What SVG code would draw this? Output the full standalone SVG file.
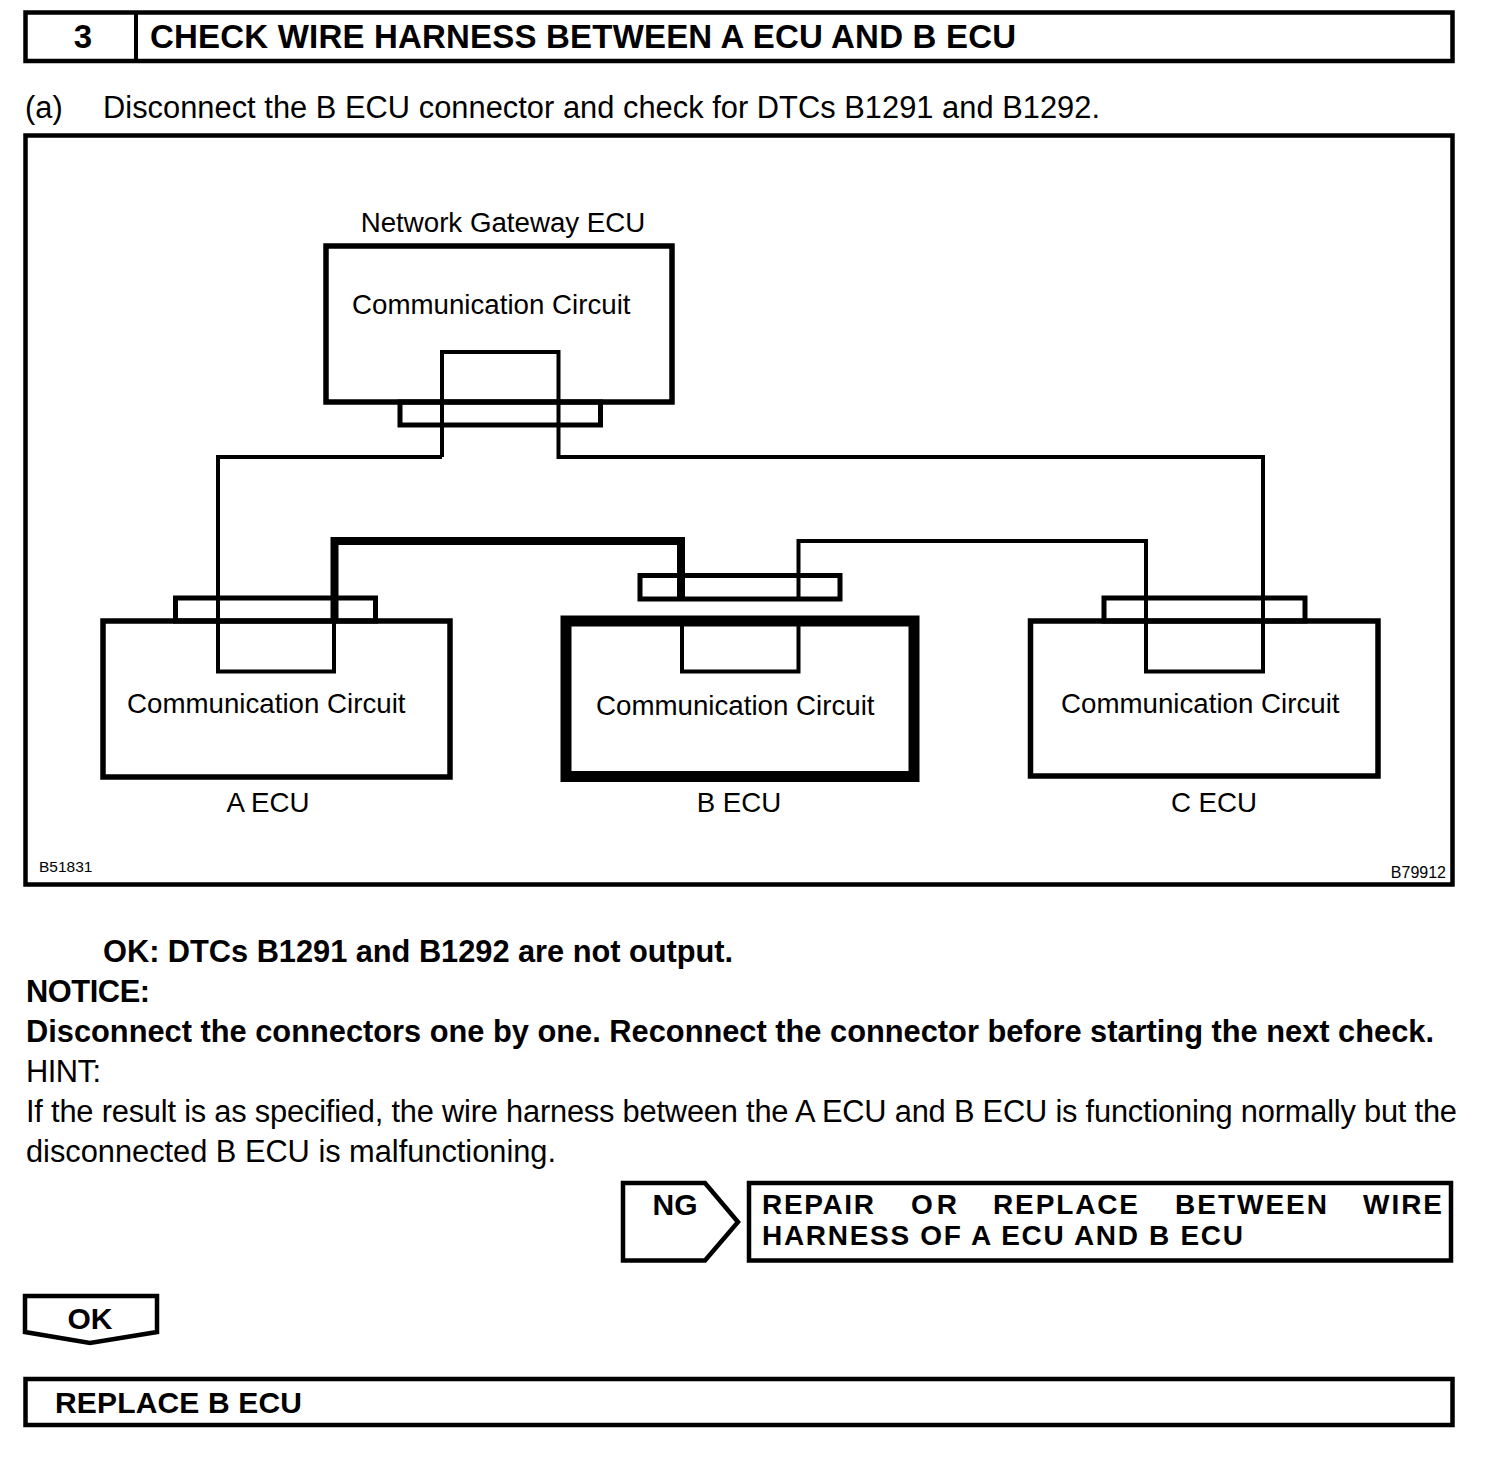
<svg xmlns="http://www.w3.org/2000/svg" width="1504" height="1458" viewBox="0 0 1504 1458">
<style>
text{font-family:"Liberation Sans",Arial,sans-serif;fill:#000}
.b{font-weight:bold}
.box{fill:none;stroke:#000;stroke-width:5.5}
.con{fill:none;stroke:#000;stroke-width:5}
.frame{fill:none;stroke:#000;stroke-width:4.5}
.wire{fill:none;stroke:#000;stroke-width:4;stroke-linejoin:miter}
.thick{fill:none;stroke:#000;stroke-width:8;stroke-linejoin:miter}
.dt{font-size:27.7px}
.bt{font-size:30.8px}
.rp{font-size:28px;font-weight:bold}
</style>
<rect width="1504" height="1458" fill="#fff"/>
<g id="header">
<rect class="frame" x="25.5" y="12.5" width="1427" height="48.5"/>
<line x1="136" y1="12.5" x2="136" y2="61" stroke="#000" stroke-width="4"/>
<text class="b" x="83" y="48" font-size="33" text-anchor="middle">3</text>
<text class="b" x="150" y="48" font-size="33" textLength="866" lengthAdjust="spacing">CHECK WIRE HARNESS BETWEEN A ECU AND B ECU</text>
</g>
<g id="step-a">
<text class="bt" x="25" y="118">(a)</text>
<text class="bt" x="103" y="118" textLength="997" lengthAdjust="spacing">Disconnect the B ECU connector and check for DTCs B1291 and B1292.</text>
</g>
<g id="figure-frame">
<rect class="frame" x="25.5" y="135.5" width="1427" height="749"/>
<text x="39" y="872" font-size="15.5">B51831</text>
<text x="1446" y="878" font-size="16" text-anchor="end">B79912</text>
</g>
<g id="connectors">
<path class="wire" d="M442,457 V352 H558.5 V457 H1263 V671.5 H1146 V541 H798.5 V599"/>
<path class="wire" d="M442,457 H218 V671.5 H334 V621"/>
<path class="wire" d="M682,626 V671.5 H798.5 V626"/>
<path class="thick" d="M334.5,621 V541 H681 V599"/>
</g>
<g id="gateway-ecu">
<text class="dt" x="503" y="232" text-anchor="middle">Network Gateway ECU</text>
<rect class="box" x="326" y="246" width="346" height="156"/>
<rect class="con" x="400" y="402" width="200.5" height="23"/>
<text class="dt" x="352" y="314">Communication Circuit</text>
</g>
<g id="a-ecu">
<rect class="box" x="103" y="621" width="347" height="156"/>
<rect class="con" x="175.5" y="598" width="200" height="23"/>
<text class="dt" x="127" y="713">Communication Circuit</text>
<text class="dt" x="268" y="812" text-anchor="middle">A ECU</text>
</g>
<g id="b-ecu">
<rect fill="none" stroke="#000" stroke-width="11" x="566" y="621" width="348" height="155.5"/>
<rect class="con" x="640" y="575.5" width="200" height="23.5"/>
<text class="dt" x="596" y="715">Communication Circuit</text>
<text class="dt" x="739" y="812" text-anchor="middle">B ECU</text>
</g>
<g id="c-ecu">
<rect class="box" x="1030.5" y="621" width="347.5" height="155"/>
<rect class="con" x="1104" y="598" width="201" height="23"/>
<text class="dt" x="1061" y="713">Communication Circuit</text>
<text class="dt" x="1214" y="812" text-anchor="middle">C ECU</text>
</g>
<g id="notes">
<text class="bt b" x="103" y="962" textLength="630" lengthAdjust="spacing">OK: DTCs B1291 and B1292 are not output.</text>
<text class="bt b" x="26" y="1002" textLength="124" lengthAdjust="spacing">NOTICE:</text>
<text class="bt b" x="26" y="1042" textLength="1408" lengthAdjust="spacing">Disconnect the connectors one by one. Reconnect the connector before starting the next check.</text>
<text class="bt" x="26" y="1082" textLength="75" lengthAdjust="spacing">HINT:</text>
<text class="bt" x="26" y="1122" textLength="1431" lengthAdjust="spacing">If the result is as specified, the wire harness between the A ECU and B ECU is functioning normally but the</text>
<text class="bt" x="26" y="1162" textLength="530" lengthAdjust="spacing">disconnected B ECU is malfunctioning.</text>
</g>
<g id="ng-branch">
<polygon class="frame" points="623,1183 705,1183 738,1222 705,1260.5 623,1260.5"/>
<text class="b" x="675" y="1215" font-size="30" text-anchor="middle">NG</text>
<rect class="frame" x="749" y="1183" width="702" height="77.5"/>
<text class="rp" y="1214"><tspan x="762" textLength="112" lengthAdjust="spacing">REPAIR</tspan><tspan x="911" textLength="46" lengthAdjust="spacing">OR</tspan><tspan x="993" textLength="145" lengthAdjust="spacing">REPLACE</tspan><tspan x="1175" textLength="152" lengthAdjust="spacing">BETWEEN</tspan><tspan x="1363" textLength="79" lengthAdjust="spacing">WIRE</tspan></text>
<text class="rp" x="762" y="1245" textLength="481" lengthAdjust="spacing">HARNESS OF A ECU AND B ECU</text>
</g>
<g id="ok-branch">
<polygon class="frame" points="25,1296 157,1296 157,1332 90,1343 25,1332"/>
<text class="b" x="90" y="1329" font-size="30" text-anchor="middle">OK</text>
<rect class="frame" x="25.5" y="1379" width="1427" height="46"/>
<text class="b" x="55" y="1413" font-size="30" textLength="247" lengthAdjust="spacing">REPLACE B ECU</text>
</g>
</svg>
